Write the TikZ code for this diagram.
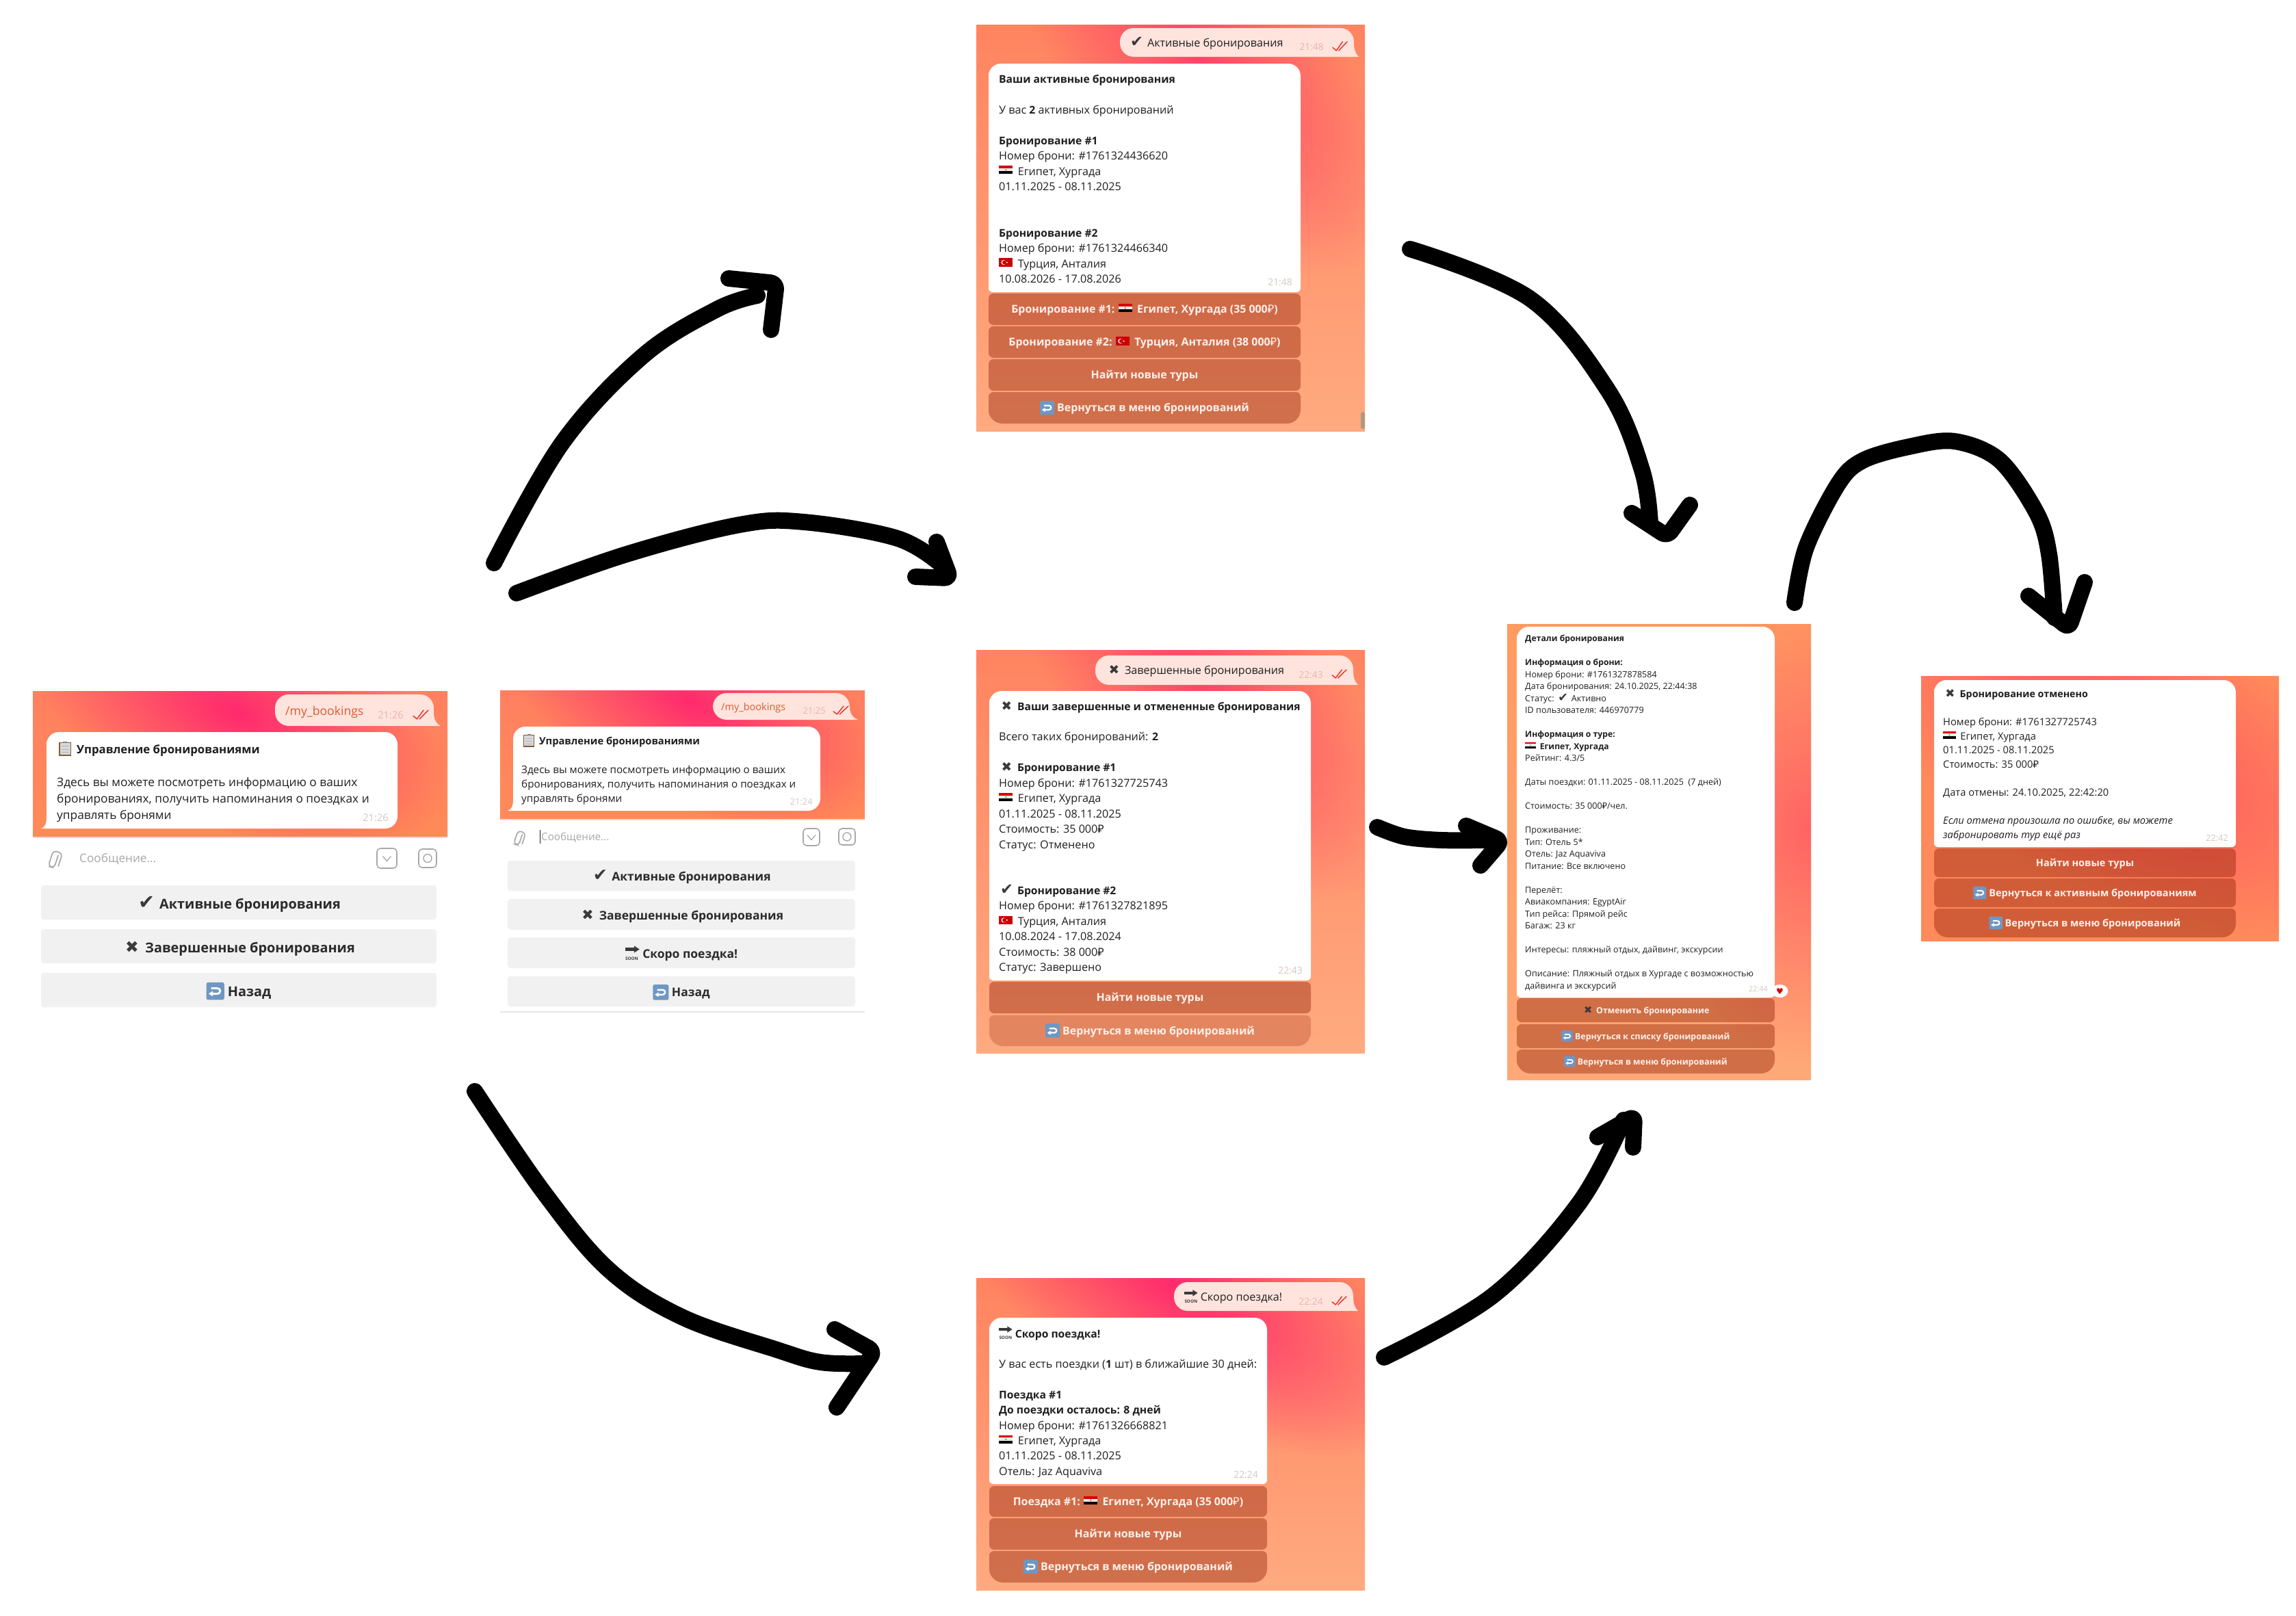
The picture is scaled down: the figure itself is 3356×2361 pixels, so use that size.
\documentclass[tikz,border=0pt]{standalone}
\usepackage{fontspec}
\usetikzlibrary{fadings}
\setmainfont{Open Sans}[BoldFeatures={Scale=0.97}]
\newfontfamily\dejavu{DejaVu Sans}
\newfontfamily\rubf{Noto Sans}
\definecolor{ink}{HTML}{1F1F1F}
\definecolor{iconDark}{HTML}{3A3A3A}
\definecolor{outbub}{HTML}{FFE4DE}
\definecolor{btnbase}{HTML}{8A1A00}
\definecolor{timeout}{HTML}{E9B4A4}
\definecolor{timein}{HTML}{D5C6C0}
\definecolor{tickred}{HTML}{F02A1E}
\definecolor{linkor}{HTML}{DC5A30}
\definecolor{btntxt}{HTML}{FFF0EA}
\definecolor{kbfill}{HTML}{F1F1F1}
\definecolor{kbink}{HTML}{2B2B2B}
\definecolor{greyic}{HTML}{A8A8A8}
\definecolor{icblue}{HTML}{6E97C4}
\definecolor{pinkA}{HTML}{FF4468}
\definecolor{pinkB}{HTML}{FF2A6E}
\definecolor{pinkC}{HTML}{FF6464}
\definecolor{pinkD}{HTML}{FF5060}
\definecolor{baseT}{HTML}{FF8460}
\definecolor{baseM}{HTML}{FF8E5E}
\definecolor{baseB}{HTML}{FFAA80}
\definecolor{hA}{HTML}{FF8060}
\definecolor{hB}{HTML}{FF7A5C}
\definecolor{hC}{HTML}{FF8A58}
\definecolor{dA}{HTML}{FF9A60}
\definecolor{dB}{HTML}{FF8C5C}
\definecolor{dC}{HTML}{FFA878}
\definecolor{cA}{HTML}{FF8A5C}
\definecolor{cB}{HTML}{FF7F5C}
\tikzfading[name=tgfade, inner color=transparent!0, outer color=transparent!100]
\newcounter{tgn}
\newcommand\rub{{\rubf ₽}}
\newcommand\bl{\strut\\}
\tikzset{
  icon/.style={baseline=0pt, sharp corners, line width=.6pt},
  handline/.style={draw=black, line width=24pt, line cap=round, line join=round},
  handhead/.style={handline, rounded corners=9pt},
  panelbox/.style={rectangle, draw=none, fill=none, inner sep=0},
  btnbg/.style={fill=btnbase, fill opacity=#1, draw=none},
  btnlabel/.style={inner sep=0, text=btntxt, anchor=base},
  kbtn/.style={rectangle, rounded corners=4pt, fill=kbfill, inner sep=0},
  timelabel/.style={inner sep=0, anchor=base east}
}
% inline icons
\newcommand\icCheck{\makebox[1.4em][c]{\scalebox{1.4}{\dejavu\color{iconDark}✔}}}
\newcommand\icX{\makebox[1.4em][c]{\scalebox{1.15}{\dejavu\color{iconDark}✖}}}
\newcommand\flagEg{\tikz[icon]{\fill[red!85!black] (0,.62em) rectangle (1.25em,.85em);\fill[white!92!black] (0,.35em) rectangle (1.25em,.62em);\fill[black] (0,.1em) rectangle (1.25em,.35em);\fill[orange!70!black] (.62em,.48em) circle (.07em);}\hspace{.2em}}
\newcommand\flagTr{\tikz[icon]{\fill[red!80!black] (0,.06em) rectangle (1.25em,.85em);\fill[white] (.42em,.46em) circle (.22em);\fill[red!80!black] (.48em,.46em) circle (.18em);\fill[white] (.72em,.46em) circle (.07em);}\hspace{.2em}}
\newcommand\icBack{\tikz[icon]{\fill[icblue, rounded corners=.14em] (0,-.27em) rectangle (1.32em,1.02em);\draw[white, line width=.14em] (.33em,.18em) -- (.82em,.18em) arc (-90:90:.2em) -- (.36em,.58em);\fill[white] (.17em,.18em) -- (.48em,.38em) -- (.48em,-.02em) -- cycle;}}
\newcommand\icSoon{\tikz[icon]{\fill[iconDark] (0,.62em) rectangle (.85em,.86em);\fill[iconDark] (.75em,.45em) -- (1.2em,.74em) -- (.75em,1.03em) -- cycle;\node[inner sep=0, anchor=south west, text=iconDark, fill=none, draw=none, minimum width=0pt, minimum height=0pt] (soonlbl) at (0,-.2em) {\fontsize{6.5}{7}\selectfont\bfseries SOON};}}
\newcommand\icClip{\tikz[icon]{\fill[brown!70!black] (0,-.2em) rectangle (1.05em,1em);\fill[white!85!black] (.08em,-.08em) rectangle (.97em,.92em);\fill[gray] (.35em,.9em) rectangle (.7em,1.05em);\fill[gray!60] (.2em,.6em) rectangle (.85em,.66em);\fill[gray!60] (.2em,.35em) rectangle (.85em,.41em);\fill[gray!60] (.2em,.1em) rectangle (.85em,.16em);}}
% panel background
\newcommand\tgbase[7]{\shade[top color=#5, middle color=#6, bottom color=#7] (#1,#2) rectangle (#3,#4);}
\newcommand\tgblob[7]{\begin{scope}\clip #1;\begin{scope}[transform canvas={rotate around={#6:(#2,#3)}}]\fill[#7, path fading=tgfade, fit fading] (#2,#3) ellipse ({#4} and {#5});\end{scope}\end{scope}}
\newcommand\tgpanelnode[5]{\pgfmathsetmacro\tgw{#4-#2}\pgfmathsetmacro\tgh{#5-#3}\node[panelbox, minimum width=\tgw pt, minimum height=\tgh pt] (#1) at ({(#2+#4)/2},{(#3+#5)/2}) {};}
% out bubble, tail at bottom right
\newcommand\tgout[5]{\fill[outbub] (#3-16,#4) -- (#5,#4) .. controls (#3+2,#4-4) and (#3,#4-12) .. (#3,#4-20) -- (#3,#2+20) arc (0:-90:20) -- (#1+20,#2) arc (-90:-180:20) -- (#1,#4-20) arc (180:90:20) -- cycle;}
% in bubble with small bottom corners
\newcommand\tgin[5]{\fill[white] (#1,#4-#5) [rounded corners=#5 pt] -- (#1,#2+18) [rounded corners=18pt] -- (#1,#2) -- (#3,#2) [rounded corners=#5 pt] -- (#3,#4) -- (#1,#4) -- cycle;}
% in bubble with a tail bottom left
\newcommand\tgintail[5]{\fill[white] (#5,#4) .. controls (#1,#4-3) and (#1,#4-10) .. (#1,#4-18) -- (#1,#2+18) arc (180:270:18) -- (#3-18,#2) arc (270:360:18) -- (#3,#4-18) arc (0:90:18) -- cycle;}
\newcommand\tgtext[5]{\stepcounter{tgn}\node[anchor=north west, inner sep=0, text=ink, font=\fontsize{#3}{#4}\selectfont] (tx\arabic{tgn}) at (#1,{#2+.36*#3-.7*#4}) {\vbox{\lineskiplimit=-100pt \def\\{\egroup\hbox\bgroup}\hbox\bgroup\strut #5\egroup}};}
\newcommand\tgline[5]{\stepcounter{tgn}\node[anchor=base west, inner sep=0, text=#5, font=\fontsize{#3}{#3}\selectfont] (tl\arabic{tgn}) at (#1,{#2+.36*#3}) {#4};}
\newcommand\tgtime[5]{\stepcounter{tgn}\node[timelabel, text=#5, font=\fontsize{#3}{#3}\selectfont] (tm\arabic{tgn}) at (#1,{#2+.36*#3}) {#4};}
\newcommand\tgticks[4]{\draw[tickred, line width=1.4pt, line cap=round, line join=round] (#1,{#4-(#4-#2)*.35}) -- ({#1+(#3-#1)*.25},#4) -- ({#1+(#3-#1)*.68},#2) ({#1+(#3-#1)*.42},#4) -- (#3,#2);}
% button: x0 y0 x1 y1 opacity fs text
\newcommand\tgbtn[7]{\stepcounter{tgn}\pgfmathsetmacro\tgw{#3-#1}\pgfmathsetmacro\tgh{#4-#2}\node[rectangle, rounded corners=7pt, btnbg=#5, inner sep=0, minimum width=\tgw pt, minimum height=\tgh pt] (bg\arabic{tgn}) at ({(#1+#3)/2},{(#2+#4)/2}) {};\node[btnlabel, font=\fontsize{#6}{#6}\selectfont\bfseries] (bt\arabic{tgn}) at ({(#1+#3)/2},{(#2+#4)/2+.36*#6}) {#7};}
\newcommand\tgbtnlast[7]{\stepcounter{tgn}\fill[btnbg=#5] (#1,{(#2+#4)/2}) [rounded corners=7pt] -- (#1,#2) -- (#3,#2) [rounded corners=20pt] -- (#3,#4) -- (#1,#4) -- cycle;\node[btnlabel, font=\fontsize{#6}{#6}\selectfont\bfseries] (bt\arabic{tgn}) at ({(#1+#3)/2},{(#2+#4)/2+.36*#6}) {#7};}
\newcommand\tgkb[6]{\stepcounter{tgn}\pgfmathsetmacro\tgw{#3-#1}\pgfmathsetmacro\tgh{#4-#2}\node[kbtn, minimum width=\tgw pt, minimum height=\tgh pt] (kg\arabic{tgn}) at ({(#1+#3)/2},{(#2+#4)/2}) {};\node[inner sep=0, anchor=base, text=kbink, font=\fontsize{#5}{#5}\selectfont\bfseries] (kb\arabic{tgn}) at ({(#1+#3)/2},{(#2+#4)/2+.44*#5}) {#6};}
\newcommand\tgclipic[3]{\begin{scope}[shift={(#1,#2)}, rotate=-18, scale=#3]\draw[greyic, line width=1.7pt, rounded corners=5pt] (4,-8) -- (4,12) -- (-5,12) -- (-5,-12) -- (9,-12) -- (9,8);\end{scope}}
\newcommand\tgfaceic[4]{\draw[greyic, line width=1.6pt, rounded corners=5pt] (#1,#2) rectangle (#3,#4);\draw[greyic, line width=1.3pt] ({(#1+#3)/2-6},{(#2+#4)/2-3}) -- ({(#1+#3)/2},{(#2+#4)/2+4}) -- ({(#1+#3)/2+6},{(#2+#4)/2-3});}
\newcommand\tgcamic[4]{\draw[greyic, line width=1.6pt, rounded corners=5pt] (#1,#2) rectangle (#3,#4);\draw[greyic, line width=1.4pt] ({(#1+#3)/2},{(#2+#4)/2}) circle (6);}
\begin{document}
\begin{tikzpicture}[x=1pt,y=-1pt]
\useasboundingbox (0,0) rectangle (3356,2361);
\fill[white] (0,0) rectangle (3356,2361);

%% ---------- left panel 1
\tgbase{48}{1010}{654}{1222}{hA}{hB}{hC}
\tgblob{(48,1010) rectangle (654,1222)}{345}{1040}{330}{170}{-25}{pinkB}
\tgpanelnode{pMenuA}{48}{1010}{654}{1222}
\tgout{402}{1015}{634}{1061}{644}
\tgline{417}{1039}{17.6}{/my\_bookings}{linkor}
\tgtime{590}{1045}{14.7}{21:26}{timeout}
\tgticks{604}{1038}{626}{1051}
\tgintail{68}{1070}{581}{1211}{60}
\tgtext{83}{1094}{17.3}{24}{\hspace{3pt}\icClip\hspace{.45em}\textbf{Управление бронированиями}\\\bl \strut Здесь вы можете посмотреть информацию о ваших\\\strut бронированиях, получить напоминания о поездках и\\\strut управлять бронями}
\tgtime{568}{1195}{14.7}{21:26}{timein}
\draw[gray!25, line width=1.5pt] (48,1224) -- (654,1224);
\tgclipic{79}{1256}{1}
\tgline{116}{1254}{17.2}{Сообщение...}{greyic}
\tgfaceic{551}{1240}{580}{1269}
\tgcamic{612}{1241}{638}{1268}
\tgkb{60}{1294}{638}{1344}{20.5}{\icCheck\ Активные бронирования}
\tgkb{60}{1358}{638}{1408}{20.5}{\icX\ Завершенные бронирования}
\tgkb{60}{1422}{638}{1472}{20.5}{\icBack\ Назад}

%% ---------- left panel 2
\tgbase{731}{1009}{1264}{1197}{hA}{hB}{hC}
\tgblob{(731,1009) rectangle (1264,1197)}{1010}{1025}{300}{150}{-25}{pinkB}
\tgpanelnode{pMenuB}{731}{1009}{1264}{1197}
\tgout{1042}{1013}{1242}{1052}{1254}
\tgline{1054}{1033}{14.5}{/my\_bookings}{linkor}
\tgtime{1207}{1039}{13}{21:25}{timeout}
\tgticks{1218}{1032}{1240}{1044}
\tgintail{750}{1062}{1199}{1185}{742}
\tgtext{762}{1082}{15.2}{21}{\hspace{3pt}\icClip\hspace{.45em}\textbf{Управление бронированиями}\\\bl \strut Здесь вы можете посмотреть информацию о ваших\\\strut бронированиях, получить напоминания о поездках и\\\strut управлять бронями}
\tgtime{1188}{1172}{13}{21:24}{timein}
\draw[gray!25, line width=1.5pt] (731,1198) -- (1264,1198);
\tgclipic{758}{1225}{.85}
\draw[ink, line width=1pt] (789,1213) -- (789,1233);
\tgline{791}{1223}{15.2}{Сообщение...}{greyic}
\tgfaceic{1174}{1211}{1198}{1236}
\tgcamic{1226}{1211}{1250}{1235}
\tgkb{742}{1258}{1250}{1302}{18}{\icCheck\ Активные бронирования}
\tgkb{742}{1314}{1250}{1359}{18}{\icX\ Завершенные бронирования}
\tgkb{742}{1370}{1250}{1415}{18}{\icSoon\ Скоро поездка!}
\tgkb{742}{1427}{1250}{1471}{18}{\icBack\ Назад}
\draw[gray!20, line width=2pt] (731,1479) -- (1264,1479);

%% ---------- active bookings
\tgbase{1427}{36}{1995}{630}{baseT}{baseM}{baseB}
\tgblob{(1427,36) rectangle (1995,630)}{1750}{80}{390}{180}{-50}{pinkA}
\tgpanelnode{pActive}{1427}{36}{1995}{630}
\tgout{1637}{41}{1979}{83}{1986}
\tgline{1650}{63}{16.15}{\icCheck\ Активные бронирования}{ink}
\tgtime{1935}{68}{13.9}{21:48}{timeout}
\tgticks{1948}{61}{1969}{74}
\tgin{1445}{93}{1901}{427}{6}
\tgtext{1460}{115}{16.15}{22.5}{\textbf{Ваши активные бронирования}\\\bl \strut У вас \textbf{2} активных бронирований\\\bl \strut\textbf{Бронирование \#1}\\\strut Номер брони: \#1761324436620\\\strut\flagEg\ Египет, Хургада\\\strut 01.11.2025 - 08.11.2025\\\bl\bl \strut\textbf{Бронирование \#2}\\\strut Номер брони: \#1761324466340\\\strut\flagTr\ Турция, Анталия\\\strut 10.08.2026 - 17.08.2026}
\tgtime{1889}{412}{13.9}{21:48}{timein}
\tgbtn{1445}{429}{1901}{475}{.4}{16.4}{Бронирование \#1: \flagEg\ Египет, Хургада (35 000\rub)}
\tgbtn{1445}{477}{1901}{523}{.4}{16.4}{Бронирование \#2: \flagTr\ Турция, Анталия (38 000\rub)}
\tgbtn{1445}{525}{1901}{571}{.4}{16.4}{Найти новые туры}
\tgbtnlast{1445}{573}{1901}{619}{.4}{16.4}{\icBack\ Вернуться в меню бронирований}
\fill[black!35!brown!60!white, rounded corners=3pt] (1989,602) rectangle (1995,627);

%% ---------- finished bookings
\tgbase{1427}{950}{1995}{1539}{baseT}{baseM}{baseB}
\tgblob{(1427,950) rectangle (1995,1539)}{1750}{995}{390}{180}{-50}{pinkA}
\tgpanelnode{pDone}{1427}{950}{1995}{1539}
\tgout{1601}{958}{1978}{1001}{1985}
\tgline{1617}{980}{16.15}{\icX\ Завершенные бронирования}{ink}
\tgtime{1934}{986}{13.9}{22:43}{timeout}
\tgticks{1947}{979}{1968}{991}
\tgin{1446}{1010}{1916}{1433}{6}
\tgtext{1460}{1032}{16.15}{22.45}{\icX\ \textbf{Ваши завершенные и отмененные бронирования}\\\bl \strut Всего таких бронирований: \textbf{2}\\\bl \strut\icX\ \textbf{Бронирование \#1}\\\strut Номер брони: \#1761327725743\\\strut\flagEg\ Египет, Хургада\\\strut 01.11.2025 - 08.11.2025\\\strut Стоимость: 35 000\rub\\\strut Статус: Отменено\\\bl\bl \strut\icCheck\ \textbf{Бронирование \#2}\\\strut Номер брони: \#1761327821895\\\strut\flagTr\ Турция, Анталия\\\strut 10.08.2024 - 17.08.2024\\\strut Стоимость: 38 000\rub\\\strut Статус: Завершено}
\tgtime{1904}{1418}{13.9}{22:43}{timein}
\tgbtn{1446}{1435}{1916}{1481}{.4}{16.4}{Найти новые туры}
\tgbtnlast{1446}{1484}{1916}{1529}{.24}{16.4}{\icBack\ Вернуться в меню бронирований}

%% ---------- soon
\tgbase{1427}{1868}{1995}{2324}{baseT}{baseM}{baseB}
\tgblob{(1427,1868) rectangle (1995,2324)}{1720}{1880}{400}{170}{-30}{pinkB}
\tgpanelnode{pSoon}{1427}{1868}{1995}{2324}
\tgout{1716}{1874}{1978}{1916}{1985}
\tgline{1731}{1896}{16.15}{\icSoon\ Скоро поездка!}{ink}
\tgtime{1934}{1902}{13.9}{22:24}{timeout}
\tgticks{1947}{1895}{1968}{1907}
\tgin{1446}{1926}{1852}{2169}{6}
\tgtext{1460}{1948}{16.15}{22.35}{\icSoon\ \textbf{Скоро поездка!}\\\bl \strut У вас есть поездки (\textbf{1} шт) в ближайшие 30 дней:\\\bl \strut\textbf{Поездка \#1}\\\strut\textbf{До поездки осталось: 8 дней}\\\strut Номер брони: \#1761326668821\\\strut\flagEg\ Египет, Хургада\\\strut 01.11.2025 - 08.11.2025\\\strut Отель: Jaz Aquaviva}
\tgtime{1839}{2155}{13.9}{22:24}{timein}
\tgbtn{1446}{2172}{1852}{2217}{.4}{16.4}{Поездка \#1: \flagEg\ Египет, Хургада (35 000\rub)}
\tgbtn{1446}{2219}{1852}{2265}{.4}{16.4}{Найти новые туры}
\tgbtnlast{1446}{2267}{1852}{2313}{.4}{16.4}{\icBack\ Вернуться в меню бронирований}

%% ---------- details
\tgbase{2203}{912}{2647}{1578}{dA}{dB}{dC}
\tgblob{(2203,912) rectangle (2647,1578)}{2640}{1210}{210}{340}{0}{pinkC}
\tgpanelnode{pDetail}{2203}{912}{2647}{1578}
\tgin{2217}{916}{2594}{1458}{6}
\tgtext{2229}{933}{12.6}{17.5}{\textbf{Детали бронирования}\\\bl \strut\textbf{Информация о брони:}\\\strut Номер брони: \#1761327878584\\\strut Дата бронирования: 24.10.2025, 22:44:38\\\strut Статус: \icCheck\ Активно\\\strut ID пользователя: 446970779\\\bl \strut\textbf{Информация о туре:}\\\strut\flagEg\ \textbf{Египет, Хургада}\\\strut Рейтинг: 4.3/5\\\bl \strut Даты поездки: 01.11.2025 - 08.11.2025 \ (7 дней)\\\bl \strut Стоимость: 35 000\rub/чел.\\\bl \strut Проживание:\\\strut Тип: Отель 5*\\\strut Отель: Jaz Aquaviva\\\strut Питание: Все включено\\\bl \strut Перелёт:\\\strut Авиакомпания: EgyptAir\\\strut Тип рейса: Прямой рейс\\\strut Багаж: 23 кг\\\bl \strut Интересы: пляжный отдых, дайвинг, экскурсии\\\bl \strut Описание: Пляжный отдых в Хургаде с возможностью\\\strut дайвинга и экскурсий}
\tgtime{2584}{1446}{10.9}{22:44}{timein}
\fill[white] (2601.5,1448.5) ellipse (12 and 9.5);
\node[inner sep=0, text=red!85!black, font=\fontsize{12}{12}\selectfont\dejavu] (heartIcon) at (2601.5,1449) {♥};
\tgbtn{2217}{1459}{2594}{1494}{.4}{12.8}{\icX\ Отменить бронирование}
\tgbtn{2217}{1497}{2594}{1532}{.4}{12.8}{\icBack\ Вернуться к списку бронирований}
\tgbtnlast{2217}{1534}{2594}{1569}{.4}{12.8}{\icBack\ Вернуться в меню бронирований}

%% ---------- cancelled
\tgbase{2808}{988}{3331}{1375}{cA}{cB}{cA}
\tgblob{(2808,988) rectangle (3331,1375)}{3090}{1090}{420}{210}{-30}{pinkD}
\tgpanelnode{pCancel}{2808}{988}{3331}{1375}
\tgin{2827}{994}{3268}{1238}{6}
\tgtext{2840}{1014}{14.7}{20.55}{\icX\ \textbf{Бронирование отменено}\\\bl \strut Номер брони: \#1761327725743\\\strut\flagEg\ Египет, Хургада\\\strut 01.11.2025 - 08.11.2025\\\strut Стоимость: 35 000\rub\\\bl \strut Дата отмены: 24.10.2025, 22:42:20\\\bl \strut\textit{Если отмена произошла по ошибке, вы можете}\\\strut\textit{забронировать тур ещё раз}}
\tgtime{3257}{1225}{12.7}{22:42}{timein}
\tgbtn{2827}{1240}{3268}{1282}{.4}{15}{Найти новые туры}
\tgbtn{2827}{1284}{3268}{1326}{.4}{15}{\icBack\ Вернуться к активным бронированиям}
\tgbtnlast{2827}{1328}{3268}{1370}{.4}{15}{\icBack\ Вернуться в меню бронирований}

%% ---------- hand-drawn arrows
\coordinate (a1s) at (722,823);  \coordinate (a1e) at (1107,432); \coordinate (a1p) at (1065,407); \coordinate (a1t) at (1135,414); \coordinate (a1q) at (1127,482);
\coordinate (a2s) at (755,867);  \coordinate (a2e) at (1378,827); \coordinate (a2p) at (1369,792); \coordinate (a2t) at (1389,845); \coordinate (a2q) at (1338,843);
\coordinate (a3s) at (694,1595); \coordinate (a3e) at (1262,1993); \coordinate (a3p) at (1220,1943); \coordinate (a3t) at (1278,1975); \coordinate (a3q) at (1223,2057);
\coordinate (a4s) at (2061,364); \coordinate (a4e) at (2412,767); \coordinate (a4p) at (2385,750); \coordinate (a4t) at (2437,784); \coordinate (a4q) at (2470,738);
\coordinate (a5s) at (2013,1209);\coordinate (a5e) at (2170,1228); \coordinate (a5p) at (2143,1207); \coordinate (a5t) at (2195,1229); \coordinate (a5q) at (2164,1265);
\coordinate (a6s) at (2023,1984);\coordinate (a6e) at (2373,1637); \coordinate (a6p) at (2335,1662); \coordinate (a6t) at (2389,1631); \coordinate (a6q) at (2387,1677);
\coordinate (a7s) at (2623,881); \coordinate (a7e) at (3003,903); \coordinate (a7p) at (2965,871); \coordinate (a7t) at (3024,918); \coordinate (a7q) at (3047,851);
\draw[handline] plot[smooth, tension=.6] coordinates {(a1s) (822,647) (940,520) (1048,452) (a1e)};
\draw[handhead] (a1p) -- (a1t) -- (a1q);
\draw[handline] plot[smooth, tension=.6] coordinates {(a2s) (916,810) (1081,767) (1175,763) (1312,787) (a2e)};
\draw[handhead] (a2p) -- (a2t) -- (a2q);
\draw[handline] plot[smooth, tension=.6] coordinates {(a3s) (795,1743) (890,1856) (997,1925) (1136,1973) (1199,1991) (a3e)};
\draw[handhead] (a3p) -- (a3t) -- (a3q);
\draw[handline] plot[smooth, tension=.6] coordinates {(a4s) (2237,437) (2350,570) (2400,687) (a4e)};
\draw[handhead] (a4p) -- (a4t) -- (a4q);
\draw[handline] plot[smooth, tension=.55] coordinates {(a5s) (2053,1223) (2107,1228) (a5e)};
\draw[handhead] (a5p) -- (a5t) -- (a5q);
\draw[handline] plot[smooth, tension=.6] coordinates {(a6s) (2183,1893) (2307,1760) (a6e)};
\draw[handhead] (a6p) -- (a6t) -- (a6q);
\draw[handline] plot[smooth, tension=.55] coordinates {(a7s) (2640,800) (2687,707) (2723,673) (2790,653) (2857,645) (2923,673) (2977,750) (2995,810) (a7e)};
\draw[handhead] (a7p) -- (a7t) -- (a7q);
\end{tikzpicture}
\end{document}
